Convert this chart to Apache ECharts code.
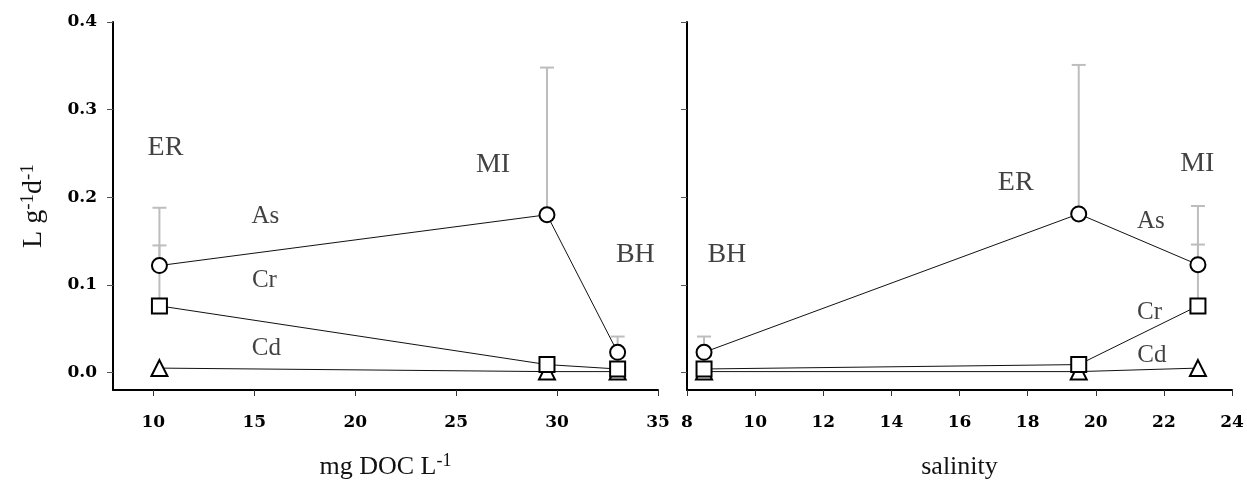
<!DOCTYPE html>
<html>
<head>
<meta charset="utf-8">
<script src="https://cdn.jsdelivr.net/npm/echarts@6/dist/echarts.min.js"></script>
<style>
html,body{margin:0;padding:0;background:#fff;}
#chart{width:1247px;height:485px;}
</style>
</head>
<body>
<div id="chart"></div>
<script>
// ---- data ----
// left panel: x = mg DOC L-1, sites ER, MI, BH
const docSites = ['ER', 'MI', 'BH'];
const docX   = [10.3, 29.5, 33.0];
const docAs  = [0.122, 0.180, 0.023];
const docCr  = [0.076, 0.009, 0.004];
const docCd  = [0.005, 0.001, 0.001];
const docAsTop = [0.188, 0.348, 0.041];   // upper error bar ends
const docCrTop = [0.145, null, null];

// right panel: x = salinity
const salX   = [8.5, 19.5, 23.0];
const salAs  = [0.023, 0.181, 0.123];
const salCr  = [0.004, 0.009, 0.076];
const salCd  = [0.001, 0.001, 0.005];
const salAsTop = [0.041, 0.351, 0.190];
const salCrTop = [null, null, 0.146];

// tick labels
const yTicks   = [0, 0.1, 0.2, 0.3, 0.4];
const docTicks = [10, 15, 20, 25, 30, 35];
const salTicks = [8, 10, 12, 14, 16, 18, 20, 22, 24];

// text annotations (text, x, y in data units)
const leftSiteNotes  = [['ER', 10.6, 0.257], ['MI', 26.83, 0.237], ['BH', 33.88, 0.134]];
const leftElemNotes  = [['As', 15.55, 0.178], ['Cr', 15.5, 0.105], ['Cd', 15.6, 0.028]];
const rightSiteNotes = [['BH', 9.17, 0.134], ['ER', 17.65, 0.217], ['MI', 22.98, 0.238]];
const rightElemNotes = [['As', 21.62, 0.172], ['Cr', 21.58, 0.068], ['Cd', 21.65, 0.020]];

// ---- styles ----
const serif = '"Liberation Serif", "Times New Roman", serif';
const tickFont = '"DejaVu Serif", serif';
const txt = '#111';

function zip(xs, ys) { return xs.map((x, i) => [x, ys[i]]); }
function errData(xs, ys, tops) {
  const out = [];
  xs.forEach((x, i) => { if (tops[i] != null) out.push([x, ys[i], tops[i]]); });
  return out;
}

function errSeries(idx, data) {
  return {
    type: 'custom', xAxisIndex: idx, yAxisIndex: idx, silent: true, z: 1,
    data: data,
    encode: { x: 0, y: [1, 2] },
    renderItem: function (params, api) {
      const p0 = api.coord([api.value(0), api.value(1)]);
      const p1 = api.coord([api.value(0), api.value(2)]);
      const hw = 7;
      const st = { stroke: '#bdbdbd', lineWidth: 2 };
      return {
        type: 'group',
        children: [
          { type: 'line', shape: { x1: p0[0], y1: p0[1], x2: p1[0], y2: p1[1] }, style: st },
          { type: 'line', shape: { x1: p1[0] - hw, y1: p1[1], x2: p1[0] + hw, y2: p1[1] }, style: st }
        ]
      };
    }
  };
}

function lineSeries(idx, data, symbol, size, z) {
  return {
    type: 'line', xAxisIndex: idx, yAxisIndex: idx, data: data,
    symbol: symbol, symbolSize: size, showAllSymbol: true, z: z,
    lineStyle: { color: '#111', width: 1 },
    itemStyle: { color: '#fff', borderColor: '#000', borderWidth: 2 },
    emphasis: { disabled: true }, silent: true
  };
}

function noteSeries(idx, notes, size) {
  return {
    type: 'scatter', xAxisIndex: idx, yAxisIndex: idx, symbolSize: 0, z: 5, silent: true,
    data: notes.map(n => [n[1], n[2], n[0]]),
    label: {
      show: true, position: 'inside', formatter: p => p.value[2],
      fontFamily: serif, fontSize: size, color: txt
    },
    emphasis: { disabled: true }
  };
}

const richName = {
  a: { fontFamily: serif, fontSize: 26, color: txt, lineHeight: 30, verticalAlign: 'middle' },
  s: { fontFamily: serif, fontSize: 18, color: txt, lineHeight: 16, verticalAlign: 'top' }
};

function yAxisDef(idx, showLabels) {
  return {
    type: 'value', gridIndex: idx, min: -0.02, max: 0.4,
    splitLine: { show: false },
    axisLine: { show: true, onZero: false, lineStyle: { color: '#000', width: 2 } },
    axisTick: { show: true, length: 6, customValues: yTicks, lineStyle: { color: '#555', width: 1 } },
    axisLabel: {
      show: showLabels, customValues: yTicks, margin: 16,
      formatter: v => v.toFixed(1),
      fontFamily: tickFont, fontWeight: 'bold', fontSize: 17, color: '#000'
    },
    name: showLabels ? '{a|L g}{s|-1}{a|d}{s|-1}' : '',
    nameLocation: 'middle', nameGap: 64, nameRotate: 90,
    nameTextStyle: { rich: Object.assign({}, richName, {
      a: Object.assign({}, richName.a, { fontSize: 28 }),
      s: Object.assign({}, richName.s, { fontSize: 19 })
    }) }
  };
}

function xAxisDef(idx, min, max, ticks, name) {
  const ax = {
    type: 'value', gridIndex: idx, min: min, max: max,
    splitLine: { show: false },
    axisLine: { show: true, onZero: false, lineStyle: { color: '#000', width: 2 } },
    axisTick: { show: true, length: 6, lineStyle: { color: '#333', width: 1 } },
    axisLabel: {
      margin: 24, fontFamily: tickFont, fontWeight: 'bold', fontSize: 17, color: '#000',
      showMinLabel: true, showMaxLabel: true
    },
    name: name, nameLocation: 'middle', nameGap: 62,
    nameTextStyle: { rich: richName }
  };
  if (ticks) {
    ax.axisTick.customValues = ticks;
    ax.axisLabel.customValues = ticks;
  } else {
    ax.interval = 2;
  }
  return ax;
}

const chart = echarts.init(document.getElementById('chart'), null, { renderer: 'canvas' });
chart.setOption({
  animation: false,
  backgroundColor: '#fff',
  grid: [
    { left: 113, right: 589, top: 22, bottom: 92 },
    { left: 687, right: 15, top: 22, bottom: 92 }
  ],
  xAxis: [
    xAxisDef(0, 8, 35, docTicks, '{a|mg DOC L}{s|-1}'),
    xAxisDef(1, 8, 24, null, '{a|salinity}')
  ],
  yAxis: [yAxisDef(0, true), yAxisDef(1, false)],
  series: [
    errSeries(0, errData(docX, docCr, docCrTop)),
    errSeries(0, errData(docX, docAs, docAsTop)),
    lineSeries(0, zip(docX, docCd), 'triangle', 16, 2),
    lineSeries(0, zip(docX, docCr), 'rect', 15, 3),
    lineSeries(0, zip(docX, docAs), 'circle', 15, 4),
    errSeries(1, errData(salX, salCr, salCrTop)),
    errSeries(1, errData(salX, salAs, salAsTop)),
    lineSeries(1, zip(salX, salCd), 'triangle', 16, 2),
    lineSeries(1, zip(salX, salCr), 'rect', 15, 3),
    lineSeries(1, zip(salX, salAs), 'circle', 15, 4),
    noteSeries(0, leftSiteNotes, 28),
    noteSeries(0, leftElemNotes, 25),
    noteSeries(1, rightSiteNotes, 28),
    noteSeries(1, rightElemNotes, 25)
  ]
});
</script>
</body>
</html>
